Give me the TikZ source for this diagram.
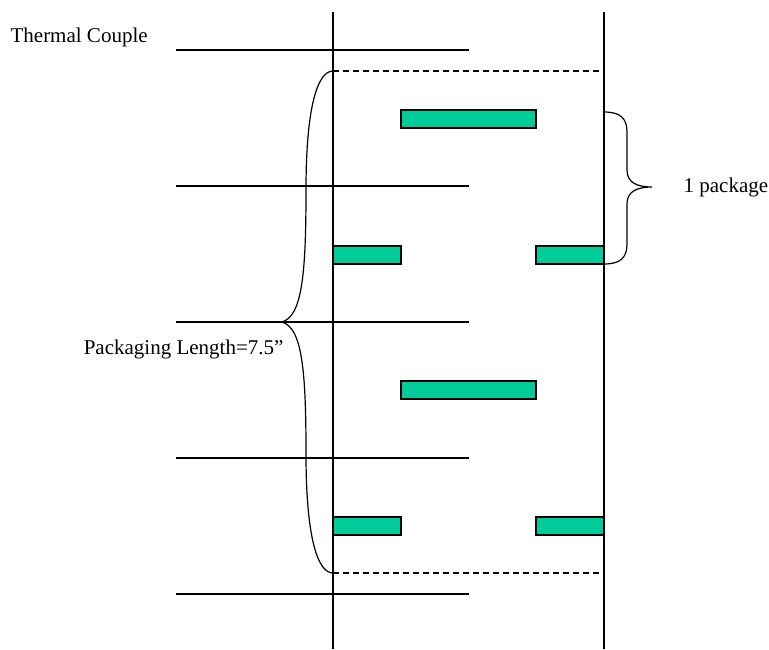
\documentclass[tikz,border=0pt]{standalone}
\usepackage{fontspec}
\setmainfont{Liberation Serif}
\definecolor{pkg}{RGB}{0,204,153}
\begin{document}
\begin{tikzpicture}[x=1pt,y=-1pt,line width=1.2pt,
  tc/.style={draw=black},
  pkgbox/.style={fill=pkg,draw=black,line width=1.2pt},
  lbl/.style={font=\fontsize{21}{24}\selectfont,inner sep=0pt}]
\useasboundingbox (0,0) rectangle (769,649);
% vertical walls
\coordinate (lt) at (333,12); \coordinate (lb) at (333,649);
\coordinate (rt) at (604,12); \coordinate (rb) at (604,649);
\draw (lt) -- (lb);
\draw (rt) -- (rb);
% thermal couples
\foreach \y [count=\i] in {50,186,322,458,594}{
  \coordinate (tcA\i) at (176,\y); \coordinate (tcB\i) at (469,\y);
  \draw[tc] (tcA\i) -- (tcB\i);
}
% dashed package limits
\coordinate (d1a) at (333,71); \coordinate (d1b) at (604,71);
\coordinate (d2a) at (333,573); \coordinate (d2b) at (604,573);
\draw[dashed,dash pattern=on 6pt off 4pt] (d1a) -- (d1b);
\draw[dashed,dash pattern=on 6pt off 4pt] (d2a) -- (d2b);
% packages
\draw[pkgbox] (401,110) rectangle (536,128);
\draw[pkgbox] (333,246) rectangle (401,264);
\draw[pkgbox] (536,246) rectangle (604,264);
\draw[pkgbox] (401,381) rectangle (536,399);
\draw[pkgbox] (333,517) rectangle (401,535);
\draw[pkgbox] (536,517) rectangle (604,535);
% left brace
\coordinate (lbtip) at (282,322);
\draw (d1a) .. controls (318,71) and (306,105) .. (306,190)
      .. controls (306,275) and (302,316) .. (lbtip)
      .. controls (302,328) and (306,369) .. (306,454)
      .. controls (306,539) and (318,573) .. (d2a);
% right brace
\coordinate (rbt) at (604,112); \coordinate (rbb) at (604,264);
\coordinate (rbtip) at (652,187);
\draw (rbt) .. controls (620,112) and (627,118) .. (627,132)
      -- (627,170) .. controls (627,182) and (636,187) .. (rbtip)
      .. controls (636,187) and (627,192) .. (627,204)
      -- (627,244) .. controls (627,258) and (620,264) .. (rbb);
% labels
\node[lbl,anchor=west] (t1) at (10,37) {Thermal Couple};
\node[lbl,anchor=west] (t2) at (683,187) {1 package};
\node[lbl,anchor=east] (t3) at (284,349) {Packaging Length=7.5”};
\end{tikzpicture}
\end{document}
